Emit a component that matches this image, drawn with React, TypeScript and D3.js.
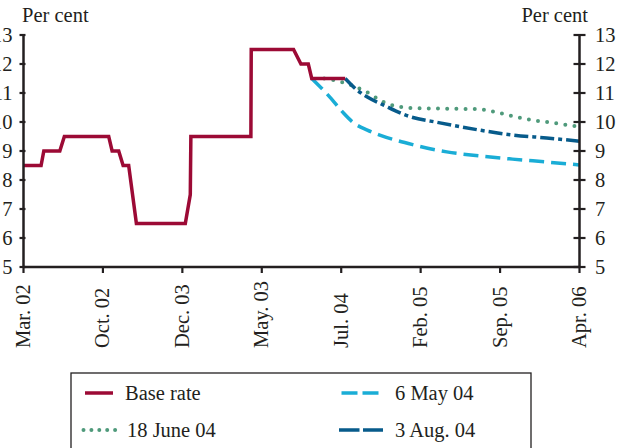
import React from "react";
import * as d3 from "d3";

// ---- data ----
const tickMonths = [0, 7, 14, 21, 28, 35, 42, 49];
const tickLabels = ["Mar. 02", "Oct. 02", "Dec. 03", "May. 03", "Jul. 04", "Feb. 05", "Sep. 05", "Apr. 06"];
const yTicks = [5, 6, 7, 8, 9, 10, 11, 12, 13];

// Base rate (step line), months since Mar. 02
const baseMonths = [0, 1.55, 1.79, 3.2, 3.6, 7.51, 7.81, 8.39, 8.78, 9.27, 9.95, 14.26, 14.7, 14.75, 20.04, 20.07, 23.8, 24.45, 25.1, 25.4, 28.35];
const baseValues = [8.5, 8.5, 9.0, 9.0, 9.5, 9.5, 9.0, 9.0, 8.5, 8.5, 6.5, 6.5, 7.5, 9.5, 9.5, 12.5, 12.5, 12.0, 12.0, 11.5, 11.5];

// Forward curves
const may04Months = [25.4, 27, 28.2, 29, 30.3, 31.4, 34.3, 37.3, 40.2, 43.1, 46.1, 49];
const may04Values = [11.5, 10.86, 10.31, 10.0, 9.72, 9.55, 9.22, 8.97, 8.83, 8.72, 8.62, 8.52];

const june04Months = [26.5, 28.3, 30.3, 31.7, 33.2, 35, 37.3, 40.2, 41.7, 44.6, 46.7, 49];
const june04Values = [11.5, 11.35, 11.02, 10.7, 10.52, 10.47, 10.46, 10.44, 10.33, 10.08, 9.97, 9.83];

const aug04Months = [28.35, 29.4, 30.3, 31.7, 33.8, 36.7, 40.2, 43.1, 46.1, 49];
const aug04Values = [11.5, 11.1, 10.86, 10.59, 10.22, 9.97, 9.72, 9.55, 9.45, 9.34];

// ---- style ----
const C_RED = "#9C0A35";
const C_LBLUE = "#1AADD6";
const C_GREEN = "#4F9A7B";
const C_DBLUE = "#075B8B";
const C_AXIS = "#231F20";
const FONT = "'Liberation Serif', 'Times New Roman', serif";
const FS = 20.5;

export default function App() {
  const W = 617, H = 448;
  const x = d3.scaleLinear().domain([0, 49]).range([23.5, 579.5]);
  const y = d3.scaleLinear().domain([5, 13]).range([267, 35]);

  const mk = (ms: number[], vs: number[]) => ms.map((m, i) => [m, vs[i]] as [number, number]);
  const stepLine = d3.line<[number, number]>().x(d => x(d[0])).y(d => y(d[1]));
  const smooth = d3.line<[number, number]>().x(d => x(d[0])).y(d => y(d[1])).curve(d3.curveMonotoneX);

  const left = x(0), right = x(49), bottom = y(5), top = y(13);

  return (
    <svg width={W} height={H} style={{ position: "absolute", left: 0, top: 0, background: "#fff" }}
      fontFamily={FONT} fontSize={FS} fill="#231F20">
      {/* series */}
      <path d={smooth(mk(may04Months, may04Values)) || ""} fill="none" stroke={C_LBLUE} strokeWidth={3.5} strokeDasharray="15 7" />
      <path d={smooth(mk(june04Months, june04Values)) || ""} fill="none" stroke={C_GREEN} strokeWidth={4} strokeDasharray="0 9.2" strokeLinecap="round" />
      <path d={smooth(mk(aug04Months, aug04Values)) || ""} fill="none" stroke={C_DBLUE} strokeWidth={3.5} strokeDasharray="14 4 4 4" />
      <path d={stepLine(mk(baseMonths, baseValues)) || ""} fill="none" stroke={C_RED} strokeWidth={3.5} strokeLinejoin="miter" />

      {/* axes */}
      <line x1={left} x2={left} y1={top} y2={bottom} stroke={C_AXIS} strokeWidth={2.5} />
      <line x1={right} x2={right} y1={top} y2={bottom} stroke={C_AXIS} strokeWidth={2.5} />
      <line x1={left} x2={right} y1={bottom} y2={bottom} stroke={C_AXIS} strokeWidth={2.5} />
      {yTicks.map(t => (
        <g key={"yt" + t}>
          <line x1={left - 4} x2={left + 2} y1={y(t)} y2={y(t)} stroke={C_AXIS} strokeWidth={2.2} />
          <line x1={right - 6} x2={right + 6} y1={y(t)} y2={y(t)} stroke={C_AXIS} strokeWidth={2.2} />
          <text x={12.5} y={y(t) + 6.5} textAnchor="end">{t}</text>
          <text x={595} y={y(t) + 6.5} textAnchor="start">{t}</text>
        </g>
      ))}
      {tickMonths.map((m, i) => (
        <g key={"xt" + i}>
          <line x1={x(m)} x2={x(m)} y1={bottom - 1} y2={bottom + 6} stroke={C_AXIS} strokeWidth={2.2} />
          <text transform={`translate(${x(m) + 6.5},348) rotate(-90)`} textAnchor="start">{tickLabels[i]}</text>
        </g>
      ))}
      <text x={22} y={22} textAnchor="start">Per cent</text>
      <text x={588} y={22} textAnchor="end">Per cent</text>

      {/* legend */}
      <rect x={71} y={373} width={460} height={100} fill="none" stroke={C_AXIS} strokeWidth={1.3} />
      <line x1={85} x2={113} y1={393} y2={393} stroke={C_RED} strokeWidth={3.5} />
      <text x={125} y={400}>Base rate</text>
      <line x1={341.5} x2={378.5} y1={393} y2={393} stroke={C_LBLUE} strokeWidth={3.5} strokeDasharray="16 5" />
      <text x={395} y={400}>6 May 04</text>
      <line x1={83.5} x2={116} y1={430} y2={430} stroke={C_GREEN} strokeWidth={4} strokeDasharray="0 7.9" strokeLinecap="round" />
      <text x={127} y={437}>18 June 04</text>
      <line x1={339} x2={383} y1={430} y2={430} stroke={C_DBLUE} strokeWidth={3.5} strokeDasharray="20.5 3.5" />
      <text x={395} y={437}>3 Aug. 04</text>
    </svg>
  );
}
